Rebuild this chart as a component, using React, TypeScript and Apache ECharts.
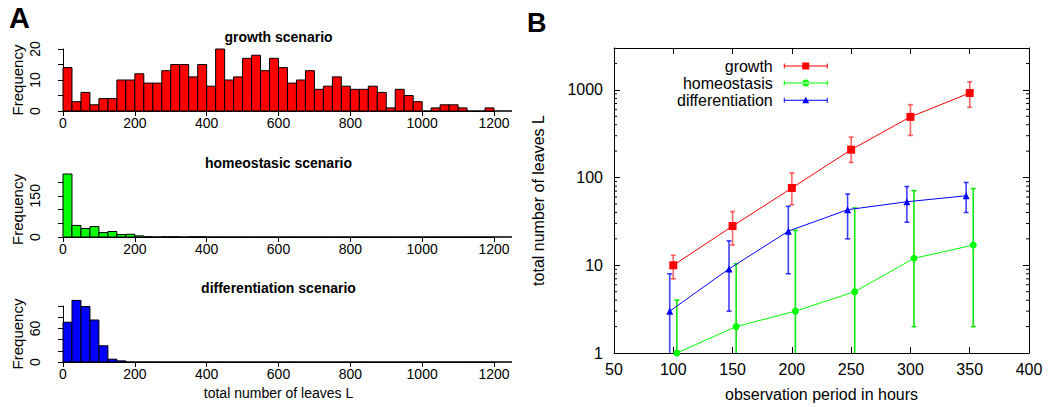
import React, { useEffect, useRef } from 'react';
import * as echarts from 'echarts';

const FONT = '"Liberation Sans", Arial, Helvetica, sans-serif';

// ---------- Panel A: histograms (bin width 25, bins start at 0) ----------
const BIN_WIDTH = 25;
const GROWTH_COUNTS = [
  14, 3, 6, 2, 4, 4, 10, 10, 12, 9, 9, 13, 15, 15, 11, 15, 8, 20, 10, 11, 17, 18,
  13, 17, 14, 9, 10, 13, 7, 8, 11, 8, 7, 7, 8, 6, 1, 7, 5, 3, 0, 1, 2, 2, 1, 0, 0, 1, 0, 0,
];
const HOMEO_COUNTS = [
  229, 42, 31, 38, 16, 20, 9, 10, 4, 1, 0, 1, 1, 0, 1, 1, 0, 0, 0, 0, 0, 0, 0, 0, 0,
  0, 0, 0, 0, 0, 0, 0, 0, 0, 0, 0, 0, 0, 0, 0, 0, 0, 0, 0, 0, 0, 0, 0, 0, 0,
];
const DIFF_COUNTS = [
  71, 110, 99, 75, 29, 5, 2, 0, 0, 0, 0, 0, 0, 0, 0, 0, 0, 0, 0, 0, 0, 0, 0, 0, 0,
  0, 0, 0, 0, 0, 0, 0, 0, 0, 0, 0, 0, 0, 0, 0, 0, 0, 0, 0, 0, 0, 0, 0, 0, 0,
];
const HIST_TITLES = ['growth scenario', 'homeostasic scenario', 'differentiation scenario'];
const HIST_COLORS = ['#ff0000', '#00ff00', '#0000ff'];
const HIST_Y_MAX = [20, 200, 100];
const HIST_Y_STEP = [5, 50, 20];
const HIST_Y_LABELLED = [[0, 10, 20], [0, 150], [0, 60]];
const HIST_X_MAX = 1200;
const HIST_X_STEP = 200;

// ---------- Panel B: leaves vs observation period ----------
const HOURS = [100, 150, 200, 250, 300, 350];
const GROWTH_MEAN = [10, 28, 76, 208, 492, 920];
const GROWTH_LOW = [7, 17, 49, 149, 302, 632];
const GROWTH_HIGH = [13, 41, 113, 289, 678, 1236];
const HOMEO_MEAN = [1, 2, 3, 5, 12, 17];
const HOMEO_LOW = [0, 0, 0, 0, 2, 2];
const HOMEO_HIGH = [4, 10.4, 25, 45, 71, 75];
const DIFF_MEAN = [3, 9.1, 24.5, 43, 53, 62];
const DIFF_LOW = [0, 3, 8, 20, 31, 40];
const DIFF_HIGH = [8, 19, 47, 65, 79, 88];
const B_X_MIN = 50;
const B_X_MAX = 400;
const B_X_STEP = 50;
const B_Y_MIN = 1;
const B_Y_MAX = 3000;
const B_MINOR_TICKS = [
  2, 3, 4, 5, 6, 7, 8, 9, 20, 30, 40, 50, 60, 70, 80, 90,
  200, 300, 400, 500, 600, 700, 800, 900, 2000,
];

const SERIES_B = [
  { name: 'growth', mean: GROWTH_MEAN, low: GROWTH_LOW, high: GROWTH_HIGH, color: '#ff0000', errColor: 'rgba(255,0,0,0.6)', symbol: 'rect', size: 8, jitter: 0,
    icon: 'path://M0 3.5h44v1h-44z M0 1.5h1v5h-1z M43 1.5h1v5h-1z M18.5 0.5h7v7h-7z' },
  { name: 'homeostasis', mean: HOMEO_MEAN, low: HOMEO_LOW, high: HOMEO_HIGH, color: '#00ff00', errColor: 'rgba(0,230,0,0.95)', symbol: 'circle', size: 7, jitter: 3,
    icon: 'path://M0 3.5h44v1h-44z M0 1.5h1v5h-1z M43 1.5h1v5h-1z M18.5 4A3.5 3.5 0 1 0 25.5 4A3.5 3.5 0 1 0 18.5 4z' },
  { name: 'differentiation', mean: DIFF_MEAN, low: DIFF_LOW, high: DIFF_HIGH, color: '#0000ff', errColor: 'rgba(0,0,255,0.75)', symbol: 'triangle', size: 7, jitter: -3,
    icon: 'path://M0 3.5h44v1h-44z M0 1.5h1v5h-1z M43 1.5h1v5h-1z M22 0.5L25.5 7L18.5 7z' },
];

// layout
const HIST_GRIDS = [
  { top: 49, height: 62 },
  { top: 182, height: 55 },
  { top: 306, height: 56 },
];
const HIST_LEFT = 63;
const HIST_WIDTH = 431;
const TITLE_Y = [37, 163, 288];

function isPow10(v: number) {
  const l = Math.log10(v);
  return Math.abs(l - Math.round(l)) < 1e-6;
}

export default function App() {
  const ref = useRef<HTMLDivElement>(null);
  useEffect(() => {
    if (!ref.current) return;
    const chart = echarts.init(ref.current, null, { renderer: 'svg' });

    const grids: any[] = HIST_GRIDS.map((g) => ({ left: HIST_LEFT, width: HIST_WIDTH, top: g.top, height: g.height }));
    grids.push({ left: 614, top: 48, width: 415, height: 306 });

    const xAxes: any[] = HIST_GRIDS.map((_, i) => ({
      type: 'value', gridIndex: i, min: 0, max: HIST_X_MAX, interval: HIST_X_STEP, offset: 2,
      axisLine: { show: true, lineStyle: { color: '#000', width: 1 } },
      axisTick: { show: true, length: 5, lineStyle: { color: '#000', width: 1 } },
      axisLabel: { color: '#000', fontSize: 14, fontFamily: FONT, margin: 3, formatter: (v: number) => String(v) },
      splitLine: { show: false },
      ...(i === 2 ? { name: 'total number of leaves L', nameLocation: 'middle', nameGap: 22,
        nameTextStyle: { color: '#000', fontSize: 14, fontFamily: FONT } } : {}),
    }));
    const bAxisCommon = {
      axisLine: { show: true, lineStyle: { color: '#000', width: 1 } },
      axisTick: { show: true, inside: true, length: 6, lineStyle: { color: '#000', width: 1 } },
      splitLine: { show: false },
    };
    xAxes.push({
      type: 'value', gridIndex: 3, min: B_X_MIN, max: B_X_MAX, interval: B_X_STEP, ...bAxisCommon,
      axisLabel: { color: '#000', fontSize: 16, fontFamily: FONT, margin: 8, formatter: (v: number) => String(v) },
      name: 'observation period in hours', nameLocation: 'middle', nameGap: 33,
      nameTextStyle: { color: '#000', fontSize: 16, fontFamily: FONT },
    });
    xAxes.push({
      type: 'value', gridIndex: 3, position: 'top', min: B_X_MIN, max: B_X_MAX, interval: B_X_STEP, ...bAxisCommon,
      axisLabel: { show: false },
    });

    const yAxes: any[] = HIST_GRIDS.map((_, i) => ({
      type: 'value', gridIndex: i, min: 0, max: HIST_Y_MAX[i], interval: HIST_Y_STEP[i], offset: 16,
      axisLine: { show: true, lineStyle: { color: '#000', width: 1 } },
      axisTick: { show: true, length: 5, lineStyle: { color: '#000', width: 1 } },
      axisLabel: {
        color: '#000', fontSize: 14, fontFamily: FONT, rotate: 90, margin: 5,
        formatter: (v: number) => (HIST_Y_LABELLED[i].includes(v) ? String(v) : ''),
      },
      splitLine: { show: false },
      name: 'Frequency', nameLocation: 'middle', nameRotate: 90, nameGap: 22,
      nameTextStyle: { color: '#000', fontSize: 15, fontFamily: FONT },
    }));
    yAxes.push({
      type: 'log', logBase: 10, gridIndex: 3, min: B_Y_MIN, max: B_Y_MAX, ...bAxisCommon,
      axisLabel: { color: '#000', fontSize: 16, fontFamily: FONT, margin: 11,
        formatter: (v: number) => (isPow10(v) ? String(Math.round(v)) : '') },
      name: 'total number of leaves L', nameLocation: 'middle', nameRotate: 90, nameGap: 68,
      nameTextStyle: { color: '#000', fontSize: 16, fontFamily: FONT },
    });
    yAxes.push({
      type: 'log', logBase: 10, gridIndex: 3, position: 'right', min: B_Y_MIN, max: B_Y_MAX, ...bAxisCommon,
      axisLabel: { show: false },
    });

    const histSeries = [GROWTH_COUNTS, HOMEO_COUNTS, DIFF_COUNTS].map((counts, i) => ({
      type: 'custom', xAxisIndex: i, yAxisIndex: i, silent: true,
      data: counts.map((c, k) => [k * BIN_WIDTH, c]),
      renderItem: (params: any, api: any) => {
        const start = api.value(0);
        const count = api.value(1);
        const p0 = api.coord([start, 0]);
        const p1 = api.coord([start + BIN_WIDTH, count]);
        return {
          type: 'rect',
          shape: { x: p0[0], y: p1[1], width: p1[0] - p0[0], height: p0[1] - p1[1] },
          style: { fill: HIST_COLORS[i], stroke: '#000', lineWidth: 1 },
        };
      },
    }));

    const errSeries = SERIES_B.map((s) => ({
      type: 'custom', name: s.name + ' error', xAxisIndex: 3, yAxisIndex: 3, silent: true, z: 2,
      data: HOURS.map((h, k) => [h + s.jitter, s.high[k], s.low[k]]),
      encode: { x: 0, y: [1, 2] },
      renderItem: (params: any, api: any) => {
        const x = api.value(0);
        const hi = api.value(1);
        const lo = api.value(2);
        const cs = params.coordSys;
        const top = api.coord([x, hi]);
        const clipped = !(lo >= B_Y_MIN);
        const bot = clipped ? [top[0], cs.y + cs.height] : api.coord([x, lo]);
        const half = 2.5;
        const st = { stroke: s.errColor, lineWidth: 1.6 };
        const children: any[] = [
          { type: 'line', shape: { x1: top[0], y1: top[1], x2: bot[0], y2: bot[1] }, style: st },
          { type: 'line', shape: { x1: top[0] - half, y1: top[1], x2: top[0] + half, y2: top[1] }, style: st },
        ];
        if (!clipped) children.push({ type: 'line', shape: { x1: bot[0] - half, y1: bot[1], x2: bot[0] + half, y2: bot[1] }, style: st });
        return { type: 'group', children };
      },
    }));

    const lineSeries = SERIES_B.map((s) => ({
      type: 'line', name: s.name, xAxisIndex: 3, yAxisIndex: 3, z: 3,
      data: HOURS.map((h, k) => [h + s.jitter, s.mean[k]]),
      symbol: s.symbol, symbolSize: s.size, showSymbol: true,
      itemStyle: { color: s.color },
      lineStyle: { color: s.color, width: 1 },
    }));

    const minorTickSeries = {
      type: 'custom', xAxisIndex: 3, yAxisIndex: 3, silent: true, z: 1,
      data: B_MINOR_TICKS.map((v) => [B_X_MIN, v]),
      renderItem: (params: any, api: any) => {
        const cs = params.coordSys;
        const y = api.coord([B_X_MIN, api.value(1)])[1];
        const st = { stroke: '#000', lineWidth: 1 };
        return {
          type: 'group',
          children: [
            { type: 'line', shape: { x1: cs.x, y1: y, x2: cs.x + 3, y2: y }, style: st },
            { type: 'line', shape: { x1: cs.x + cs.width - 3, y1: y, x2: cs.x + cs.width, y2: y }, style: st },
          ],
        };
      },
    };

    const graphics: any[] = HIST_TITLES.map((t, i) => ({
      type: 'text', x: HIST_LEFT + HIST_WIDTH / 2, y: TITLE_Y[i],
      style: { text: t, font: `bold 14px ${FONT}`, fill: '#000', align: 'center', verticalAlign: 'middle', textAlign: 'center', textVerticalAlign: 'middle' },
    }));
    graphics.push({ type: 'text', x: 9, y: 18, style: { text: 'A', font: `bold 29px ${FONT}`, fill: '#000', align: 'left', verticalAlign: 'middle', textAlign: 'left', textVerticalAlign: 'middle' } });
    graphics.push({ type: 'text', x: 527, y: 23, style: { text: 'B', font: `bold 27px ${FONT}`, fill: '#000', align: 'left', verticalAlign: 'middle', textAlign: 'left', textVerticalAlign: 'middle' } });

    chart.setOption({
      animation: false,
      backgroundColor: '#fff',
      textStyle: { fontFamily: FONT },
      grid: grids,
      xAxis: xAxes,
      yAxis: yAxes,
      legend: {
        data: SERIES_B.map((s) => ({ name: s.name, icon: s.icon })),
        orient: 'vertical', align: 'right', left: 672, top: 53,
        itemWidth: 44, itemHeight: 7, itemGap: 1,
        textStyle: { color: '#000', fontSize: 16, fontFamily: FONT, padding: [0, 6, 0, 0] },
        selectedMode: false,
      },
      graphic: graphics,
      series: [...histSeries, minorTickSeries, ...errSeries, ...lineSeries],
    });
    return () => chart.dispose();
  }, []);
  return <div ref={ref} style={{ position: 'absolute', left: 0, top: 0, width: 1048, height: 407 }} />;
}
